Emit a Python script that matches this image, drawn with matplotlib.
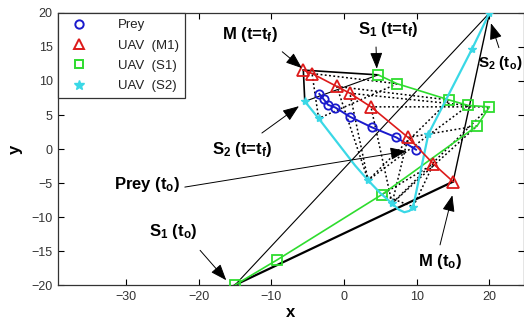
import matplotlib
matplotlib.use('Agg')
import matplotlib.pyplot as plt
from matplotlib.lines import Line2D

plt.rcParams['font.family'] = ['Liberation Sans', 'DejaVu Sans']
plt.rcParams['mathtext.fontset'] = 'custom'
plt.rcParams['mathtext.rm'] = 'Liberation Sans:bold'
plt.rcParams['mathtext.bf'] = 'Liberation Sans:bold'
plt.rcParams['mathtext.it'] = 'Liberation Sans:bold'

# ---------------- data ----------------
prey_x = [9.9, 7.2, 3.8, 0.8, -1.2, -2.2, -2.8, -3.4]
prey_y = [-0.1, 1.7, 3.2, 4.75, 6.1, 6.5, 7.3, 8.1]
m1_x = [15.0, 12.3, 8.8, 3.7, 0.8, -1.0, -4.4, -5.6]
m1_y = [-4.8, -2.2, 1.7, 6.2, 8.2, 9.2, 11.1, 11.6]
s1_x = [-15.0, -9.2, 5.2, 18.3, 20.0, 17.1, 14.5, 7.3, 4.7]
s1_y = [-20.0, -16.3, -6.7, 3.4, 6.2, 6.4, 7.2, 9.6, 10.9]
s2_x = [20.0, 17.6, 11.6, 9.5, 6.6, 3.3, -3.5, -5.4]
s2_y = [20.0, 14.7, 2.2, -8.5, -8.0, -4.6, 4.5, 7.0]
s2_path_x = [20.0, 17.6, 11.6, 9.5, 9.0, 8.3, 7.5, 6.6, 5.0, 3.3, 1.5, -3.5, -5.4]
s2_path_y = [20.0, 14.7, 2.2, -8.5, -9.1, -9.3, -8.9, -8.0, -6.5, -4.6, -2.4, 4.5, 7.0]
# index of S1 / S2 sample matching each M1 sample (for the formation links)
s1_idx = [0, 2, 3, 4, 5, 6, 7, 8]
s2_idx = [0, 3, 4, 4, 5, 5, 6, 7]

labels = ['Prey', 'UAV  (M1)', 'UAV  (S1)', 'UAV  (S2)']

c_blue = '#1a1acc'
c_red = '#dd1a1a'
c_green = '#2edc2e'
c_cyan = '#3ad8e6'

fig = plt.figure(figsize=(5.24, 3.29), dpi=100)
ax = fig.add_axes([0.1113, 0.1337, 0.888, 0.8268])

# formation links (dotted) at intermediate times
n = len(m1_x)
for i in range(1, n - 1):
    a = (m1_x[i], m1_y[i])
    b = (s1_x[s1_idx[i]], s1_y[s1_idx[i]])
    c = (s2_x[s2_idx[i]], s2_y[s2_idx[i]])
    ax.plot([a[0], b[0], c[0], a[0]], [a[1], b[1], c[1], a[1]],
            ls=(0, (1.2, 1.6)), color='k', lw=1.1, zorder=2)

# start formation (t0)
i0 = 0
ax.plot([s1_x[s1_idx[i0]], m1_x[i0]], [s1_y[s1_idx[i0]], m1_y[i0]], color='k', lw=1.6, zorder=3)
ax.plot([s1_x[s1_idx[i0]], s2_x[s2_idx[i0]]], [s1_y[s1_idx[i0]], s2_y[s2_idx[i0]]], color='k', lw=0.8, zorder=3)
ax.plot([s2_x[s2_idx[i0]], m1_x[i0]], [s2_y[s2_idx[i0]], m1_y[i0]], color='k', lw=1.0, zorder=3)
# final formation (tf)
i1 = n - 1
ax.plot([m1_x[i1], s1_x[s1_idx[i1]]], [m1_y[i1], s1_y[s1_idx[i1]]], color='k', lw=1.2, zorder=3)
ax.plot([m1_x[i1], s2_x[s2_idx[i1]]], [m1_y[i1], s2_y[s2_idx[i1]]], color='k', lw=1.2, zorder=3)
ax.plot([s2_x[s2_idx[i1]], s1_x[s1_idx[i1]]], [s2_y[s2_idx[i1]], s1_y[s1_idx[i1]]], color='k', lw=0.8, zorder=3)

# trajectories
ax.plot(prey_x, prey_y, color=c_blue, lw=1.4, marker='o', mfc='none', mec=c_blue, ms=6, mew=1.3, zorder=5)
ax.plot(m1_x, m1_y, color=c_red, lw=1.2, marker='^', mfc='none', mec=c_red, ms=8, mew=1.3, zorder=5)
ax.plot(s1_x, s1_y, color=c_green, lw=1.2, marker='s', mfc='none', mec=c_green, ms=6.5, mew=1.3, zorder=4)
ax.plot(s2_path_x, s2_path_y, color=c_cyan, lw=1.6, zorder=4)
ax.plot(s2_x, s2_y, ls='none', marker='*', color=c_cyan, ms=6, zorder=4)

ax.set_xlim(-39.3, 24.7)
ax.set_ylim(-20, 20)
ax.set_xticks([-30, -20, -10, 0, 10, 20])
ax.set_yticks([-20, -15, -10, -5, 0, 5, 10, 15, 20])
ax.tick_params(direction='in', length=4, width=0.8, top=True, right=True,
               labelsize=9, labelcolor='#333333', pad=4)
for s in ax.spines.values():
    s.set_linewidth(0.9)
    s.set_color('#333333')
ax.set_xlabel('x', fontsize=12, fontweight='bold', labelpad=2)
ax.set_ylabel('y', fontsize=12, fontweight='bold', labelpad=6)

handles = [
    Line2D([], [], ls='none', marker='o', mfc='none', mec=c_blue, ms=6, mew=1.4),
    Line2D([], [], ls='none', marker='^', mfc='none', mec=c_red, ms=7, mew=1.4),
    Line2D([], [], ls='none', marker='s', mfc='none', mec=c_green, ms=6, mew=1.4),
    Line2D([], [], ls='none', marker='*', color=c_cyan, ms=7),
]
leg = ax.legend(handles, labels, loc='upper left', borderaxespad=0, fancybox=False,
                edgecolor='#333333', fontsize=9.5, handlelength=2.2, handletextpad=1.9,
                labelspacing=0.62, borderpad=0.45, framealpha=1)
leg.get_frame().set_linewidth(0.9)
for t in leg.get_texts():
    t.set_color('#222222')
leg.set_zorder(10)

arrow = dict(arrowstyle='-|>,head_length=1.0,head_width=0.38', color='k', lw=0.7,
             shrinkA=0, shrinkB=0)
tkw = dict(fontsize=12, fontweight='bold', ha='center', va='center', zorder=11)

ax.annotate('', xy=(-5.8, 11.9), xytext=(-8.5, 14.3), arrowprops=arrow, zorder=11)
ax.text(-12.9, 16.8, r'M (t=t$_\mathbf{f}$)', **tkw)

ax.annotate('', xy=(4.5, 11.8), xytext=(4.4, 15.0), arrowprops=arrow, zorder=11)
ax.text(6.05, 17.6, r'S$_\mathbf{1}$ (t=t$_\mathbf{f}$)', **tkw)

ax.annotate('', xy=(20.2, 18.5), xytext=(21.3, 14.9), arrowprops=arrow, zorder=11)
ax.text(24.5, 12.6, r'S$_\mathbf{2}$ (t$_\mathbf{o}$)', fontsize=11, fontweight='bold',
        ha='right', va='center', zorder=11)

ax.annotate('', xy=(-6.2, 6.3), xytext=(-11.3, 2.35), arrowprops=arrow, zorder=11)
ax.text(-14.0, 0.0, r'S$_\mathbf{2}$ (t=t$_\mathbf{f}$)', **tkw)

ax.annotate('', xy=(8.6, -0.3), xytext=(-21.9, -5.6), arrowprops=arrow, zorder=11)
ax.text(-27.1, -5.2, r'Prey (t$_\mathbf{o}$)', **tkw)

ax.annotate('', xy=(-16.2, -19.3), xytext=(-19.8, -14.9), arrowprops=arrow, zorder=11)
ax.text(-23.5, -12.2, r'S$_\mathbf{1}$ (t$_\mathbf{o}$)', **tkw)

ax.annotate('', xy=(14.9, -6.8), xytext=(13.2, -14.1), arrowprops=arrow, zorder=11)
ax.text(13.2, -16.6, r'M (t$_\mathbf{o}$)', **tkw)

fig.savefig('out.png', dpi=100)
